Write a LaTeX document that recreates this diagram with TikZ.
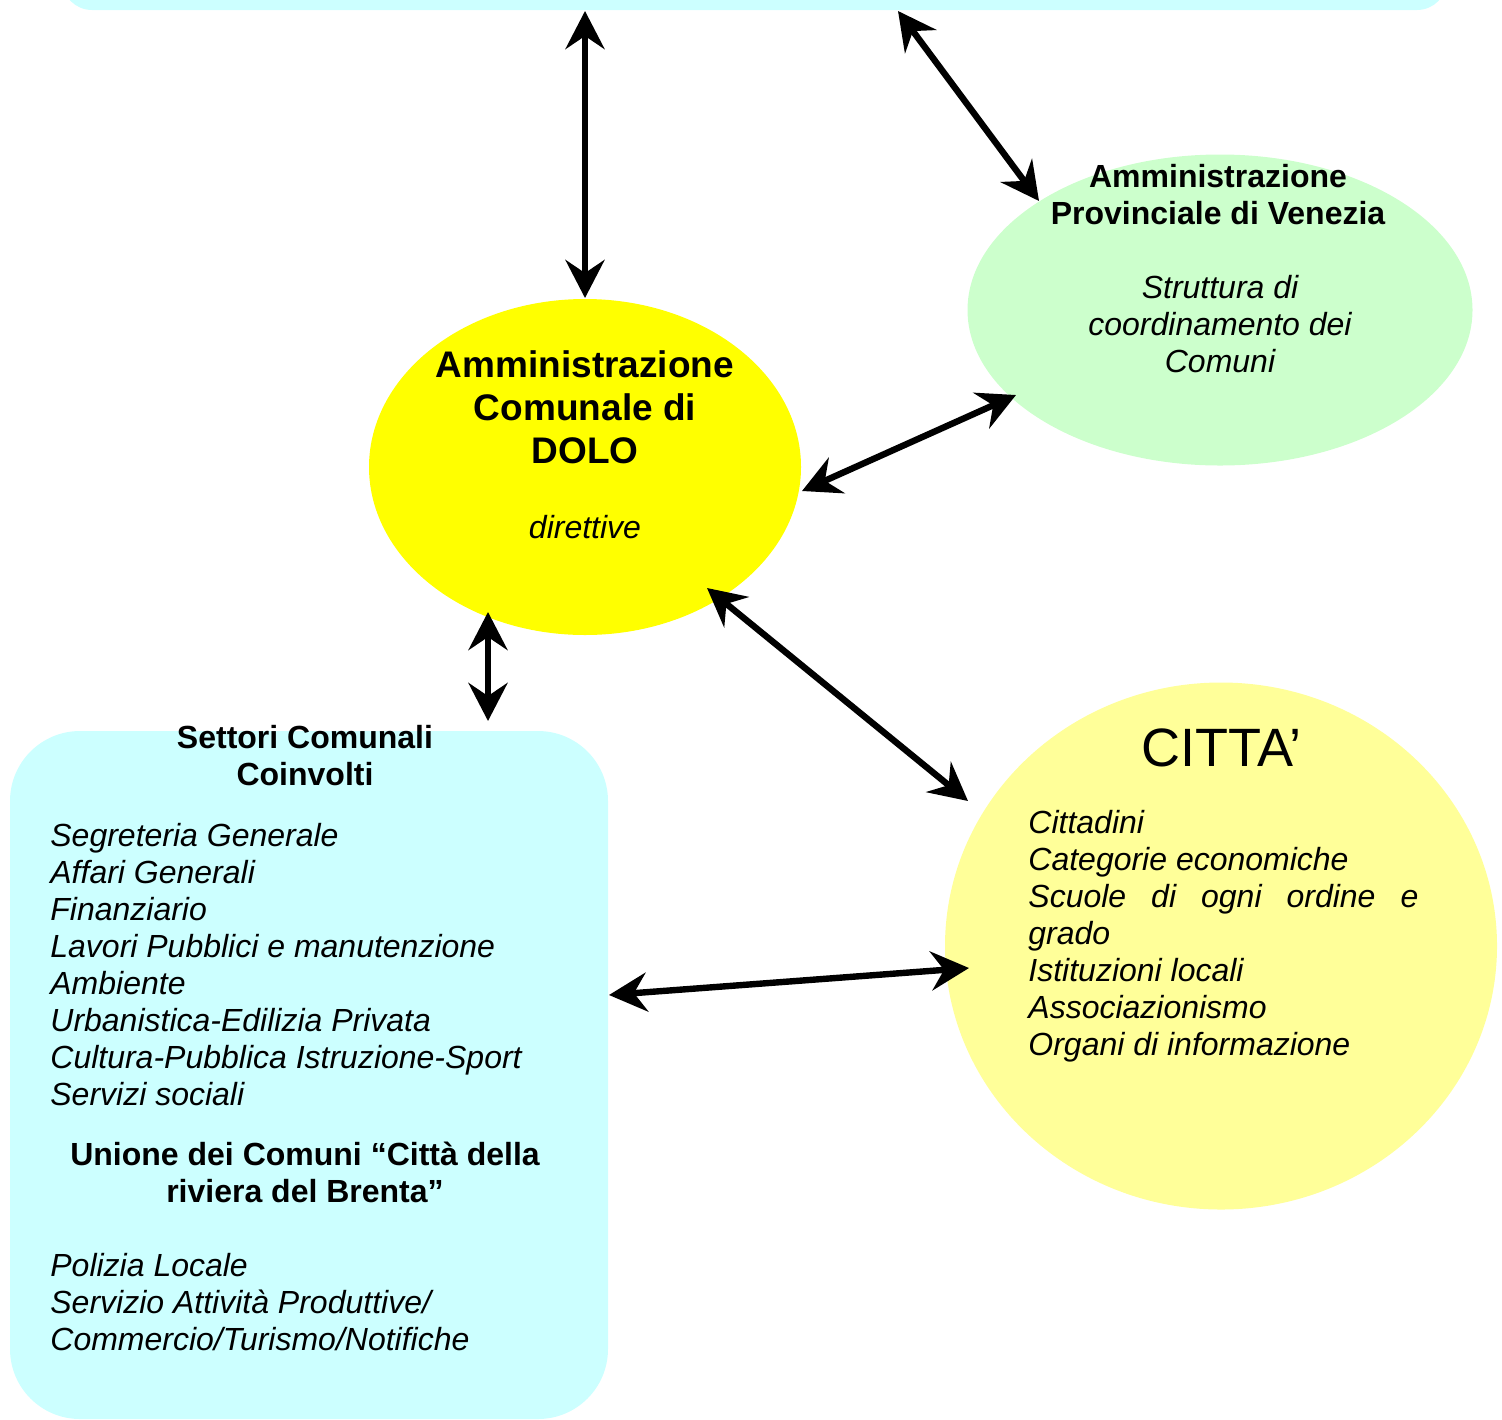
\documentclass[tikz,border=0pt]{standalone}
\usepackage{fontspec}
\setmainfont{Liberation Sans}
\usetikzlibrary{arrows.meta,shapes.geometric}
\definecolor{cyanbox}{HTML}{CCFFFF}
\definecolor{dologold}{HTML}{FFFF00}
\definecolor{provgreen}{HTML}{CCFFCC}
\definecolor{cittayel}{HTML}{FFFF99}
\tikzset{
  biarrow/.style={line width=3.2pt,
    {Stealth[length=19pt,width=19.5pt,inset=6.5pt]}-{Stealth[length=19pt,width=19.5pt,inset=6.5pt]}},
  txt/.style={inner sep=0pt, font=\fontsize{16pt}{18.5pt}\selectfont},
  txtb/.style={inner sep=0pt, align=center, font=\bfseries\fontsize{16pt}{18.5pt}\selectfont},
  txti/.style={inner sep=0pt, align=left, font=\itshape\fontsize{16pt}{18.5pt}\selectfont},
  blob/.style={ellipse, inner sep=0pt, draw=none}
}
\begin{document}
\begin{tikzpicture}[x=0.5pt,y=-0.5pt]
\useasboundingbox (0,0) rectangle (1502,1419);
% shapes
\node[fill=cyanbox, rounded corners=15pt, minimum width=692.5pt, minimum height=60pt, inner sep=0pt] (top) at (754.5,-50) {};
\node[blob, fill=dologold, minimum width=216pt, minimum height=168pt] (dolo) at (585,467) {};
\node[blob, fill=provgreen, minimum width=252.5pt, minimum height=155.5pt] (prov) at (1220,310) {};
\node[blob, fill=cittayel, minimum width=276pt, minimum height=263.5pt] (citta) at (1221,946) {};
\node[fill=cyanbox, rounded corners=35pt, minimum width=299pt, minimum height=344pt, inner sep=0pt] (set) at (309,1075) {};
% texts
\node[txtb, font=\bfseries\fontsize{18.5pt}{21.5pt}\selectfont] (dolot) at (585,407) {Amministrazione\\Comunale di\\DOLO};
\node[txti] (dolod) at (585,527) {direttive};
\node[txtb] (provt) at (1218,195) {Amministrazione\\Provinciale di Venezia};
\node[txti, align=center] (provd) at (1220,324) {Struttura di\\coordinamento dei\\Comuni};
\node[inner sep=0pt, font=\fontsize{27pt}{30pt}\selectfont] (cittat) at (1221,748) {CITTA’};
\node[txti, anchor=west] (cittal) at (1028,936) {Cittadini\\Categorie economiche\\\makebox[195pt][s]{Scuole di ogni ordine e}\\grado\\Istituzioni locali\\Associazionismo\\Organi di informazione};
\node[txtb] (sett) at (305,756) {Settori Comunali\\Coinvolti};
\node[txti, anchor=west] (setl) at (50,965) {Segreteria Generale\\Affari Generali\\Finanziario\\Lavori Pubblici e manutenzione\\Ambiente\\Urbanistica-Edilizia Privata\\Cultura-Pubblica Istruzione-Sport\\Servizi sociali};
\node[txtb] (unt) at (305,1172) {Unione dei Comuni “Città della\\riviera del Brenta”};
\node[txti, anchor=west] (unl) at (50,1302) {Polizia Locale\\Servizio Attività Produttive/\\Commercio/Turismo/Notifiche};
% connector end points
\coordinate (t1) at (585,11);
\coordinate (t2) at (898,11);
\coordinate (d4) at (488,612);
\coordinate (s4) at (488,721);
\coordinate (d5) at (707,588);
\coordinate (c5) at (968,801);
\coordinate (s6) at (609,995);
\coordinate (c6) at (969,968);
\coordinate (d3) at (802,491);
\coordinate (p3) at (1016,395);
\coordinate (p2) at (1039,201);
\coordinate (d1) at (585,298);
% connectors
\draw[biarrow] (t1) -- (d1);
\draw[biarrow] (t2) -- (p2);
\draw[biarrow] (d3) -- (p3);
\draw[biarrow] (d4) -- (s4);
\draw[biarrow] (d5) -- (c5);
\draw[biarrow] (s6) -- (c6);
\end{tikzpicture}
\end{document}
